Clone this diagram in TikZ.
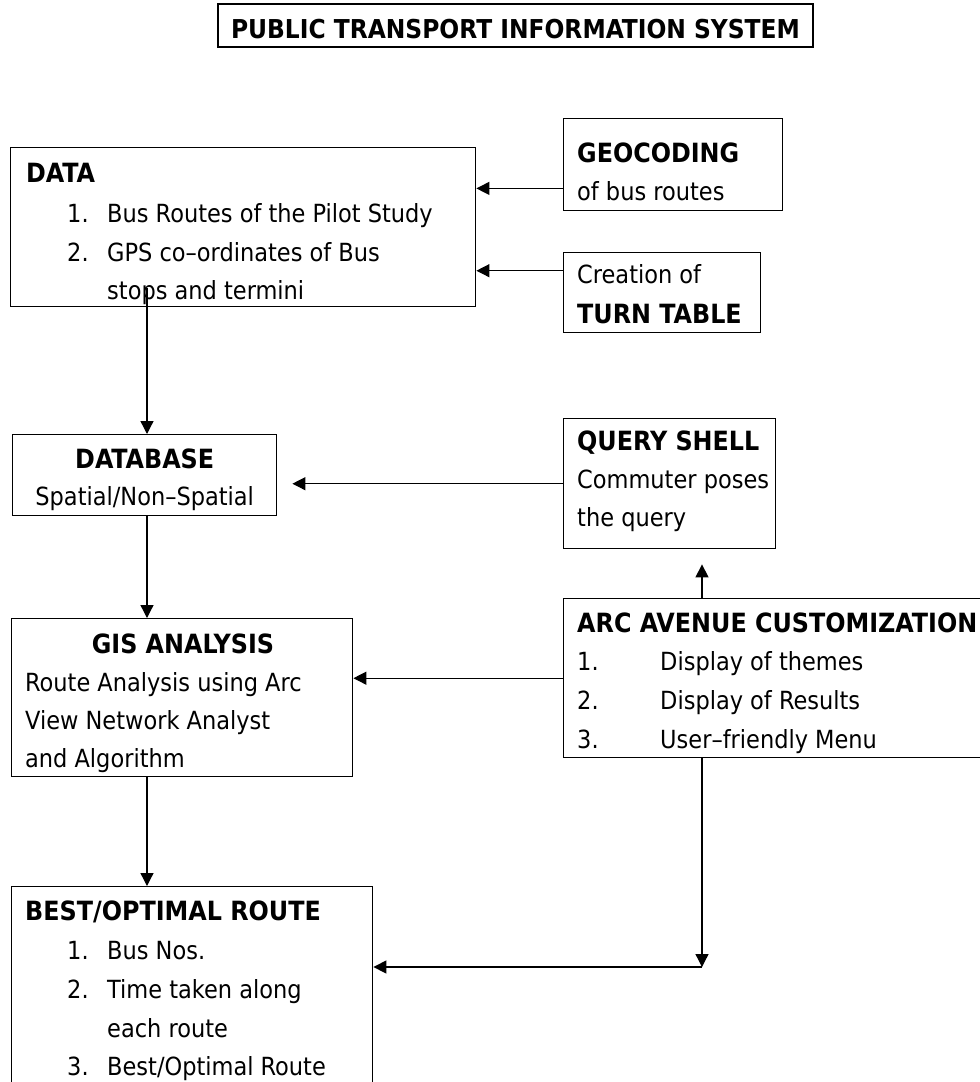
\documentclass[tikz,border=0pt]{standalone}
\usepackage{fontspec}
\setmainfont{DejaVu Sans Condensed}
\usetikzlibrary{arrows.meta}

\begin{document}
\begin{tikzpicture}[x=1pt,y=-1pt,
  box/.style={draw,line width=1.4pt,inner sep=0pt,anchor=north west},
  txt/.style={anchor=base west,inner sep=0pt,font=\fontsize{25}{30}\selectfont},
  hd/.style={txt,font=\fontsize{26.5}{30}\selectfont\bfseries},
  link/.style={line width=1.3pt,-{Triangle[length=13pt,width=13pt]}}]
\clip (0,0) rectangle (980,1082);
\fill[white] (0,0) rectangle (980,1082);

\node[box,line width=2pt,minimum width=595pt,minimum height=43pt] (title) at (217,3) {};
\node[hd,anchor=base,font=\fontsize{26}{30}\selectfont\bfseries] (titletxt) at (title.north |- 0,38) {PUBLIC TRANSPORT INFORMATION SYSTEM};

\node[box,minimum width=465pt,minimum height=159pt] (data) at (10,147) {};
\node[hd] (datahd) at (26,182) {DATA};
\node[txt] (datan1) at (67,222) {1.};
\node[txt] (datai1) at (107,222) {Bus Routes of the Pilot Study};
\node[txt] (datan2) at (67,261) {2.};
\node[txt] (datai2) at (107,261) {GPS co–ordinates of Bus};
\node[txt] (datai2b) at (107,299) {stops and termini};

\node[box,minimum width=219pt,minimum height=92pt] (geo) at (563,118) {};
\node[hd] (geohd) at (577,162) {GEOCODING};
\node[txt] (geotxt) at (577,200) {of bus routes};

\node[box,minimum width=197pt,minimum height=80pt] (turn) at (563,252) {};
\node[txt] (turntxt) at (577,283) {Creation of};
\node[hd] (turnhd) at (577,323) {TURN TABLE};

\node[box,minimum width=264pt,minimum height=81pt] (dbase) at (12,434) {};
\node[hd,anchor=base] (dbasehd) at (dbase.north |- 0,468) {DATABASE};
\node[txt,anchor=base] (dbasetxt) at (dbase.north |- 0,505) {Spatial/Non–Spatial};

\node[box,minimum width=212pt,minimum height=130pt] (query) at (563,418) {};
\node[hd] (queryhd) at (577,450) {QUERY SHELL};
\node[txt] (querytxt) at (577,488) {Commuter poses};
\node[txt] (querytxtb) at (577,526) {the query};

\node[box,minimum width=341pt,minimum height=158pt] (gis) at (11,618) {};
\node[hd,anchor=base] (gishd) at (183,653) {GIS ANALYSIS};
\node[txt] (gistxt) at (25,691) {Route Analysis using Arc};
\node[txt] (gistxtb) at (25,729) {View Network Analyst};
\node[txt] (gistxtc) at (25,767) {and Algorithm};

\node[box,minimum width=440pt,minimum height=159pt] (arc) at (563,598) {};
\node[hd] (archd) at (577,632) {ARC AVENUE CUSTOMIZATION};
\node[txt] (arcn1) at (577,670) {1.};
\node[txt] (arci1) at (660,670) {Display of themes};
\node[txt] (arcn2) at (577,709) {2.};
\node[txt] (arci2) at (660,709) {Display of Results};
\node[txt] (arcn3) at (577,748) {3.};
\node[txt] (arci3) at (660,748) {User–friendly Menu};

\node[box,minimum width=361pt,minimum height=220pt] (best) at (11,886) {};
\node[hd] (besthd) at (25,920) {BEST/OPTIMAL ROUTE};
\node[txt] (bestn1) at (67,959) {1.};
\node[txt] (besti1) at (107,959) {Bus Nos.};
\node[txt] (bestn2) at (67,998) {2.};
\node[txt] (besti2) at (107,998) {Time taken along};
\node[txt] (besti2b) at (107,1037) {each route};
\node[txt] (bestn3) at (67,1075) {3.};
\node[txt] (besti3) at (107,1075) {Best/Optimal Route};

\coordinate (spine) at (147,0);
\coordinate (riser) at (702,0);
\coordinate (corner) at (702,967);

\draw[link] ([yshift=23pt]geo.south west) -- ([yshift=23pt]geo.south west -| data.east);
\draw[link] ([yshift=22pt]turn.west) -- ([yshift=22pt]turn.west -| data.east);
\draw[link] ([yshift=19pt]spine |- data.south) -- (spine |- dbase.north);
\draw[link,shorten >=15pt] (query.west) -- (query.west -| dbase.east);
\draw[link] (spine |- dbase.south) -- (spine |- gis.north);
\draw[link,shorten >=15pt] (riser |- arc.north) -- (riser |- query.south);
\draw[link] (arc.west) -- (arc.west -| gis.east);
\draw[link] (spine |- gis.south) -- (spine |- best.north);
\draw[link] (riser |- arc.south) -- (corner);
\draw[link] (corner) -- (corner -| best.east);
\end{tikzpicture}
\end{document}
